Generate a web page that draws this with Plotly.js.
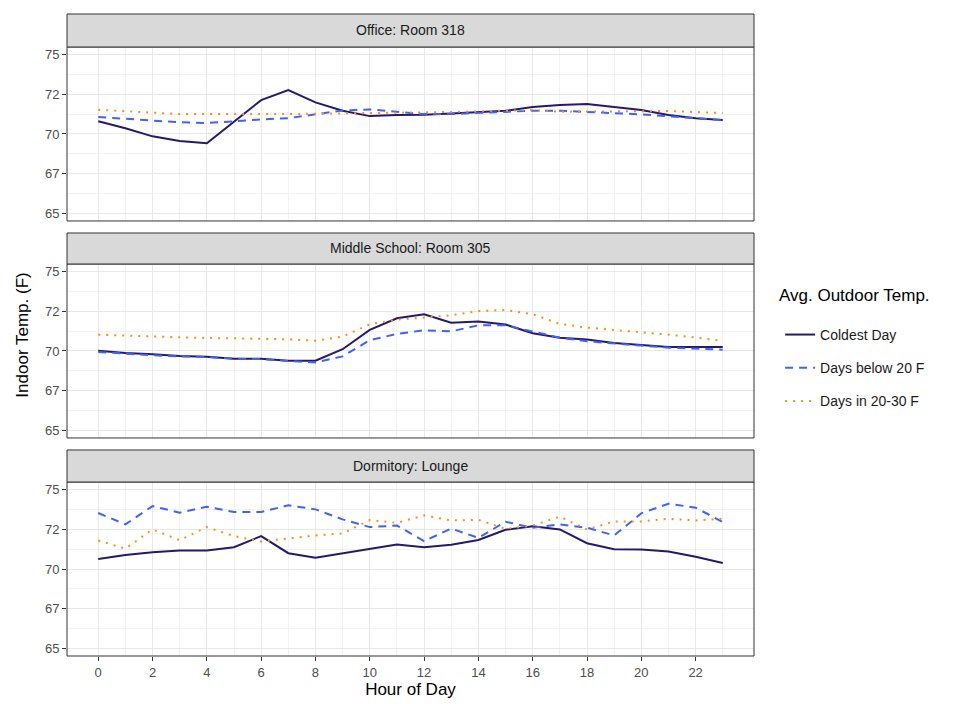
<!DOCTYPE html>
<html>
<head>
<meta charset="utf-8">
<script src="https://cdn.plot.ly/plotly-3.0.1.min.js"></script>
<style>html,body{margin:0;padding:0;background:#fff;}#chart{width:980px;height:704px;}</style>
</head>
<body>
<div id="chart"></div>
<script>
const hours = [0,1,2,3,4,5,6,7,8,9,10,11,12,13,14,15,16,17,18,19,20,21,22,23];
const panels = ['Office: Room 318', 'Middle School: Room 305', 'Dormitory: Lounge'];
const seriesNames = ['Coldest Day', 'Days below 20 F', 'Days in 20-30 F'];
const legendTitle = 'Avg. Outdoor Temp.';
const xTickVals = [0, 2, 4, 6, 8, 10, 12, 14, 16, 18, 20, 22];
const yTickVals = [65, 67.5, 70, 72.5, 75];
const yTickText = ['65', '67', '70', '72', '75'];

// Office: Room 318
const officeColdest = [70.80,70.36,69.85,69.56,69.41,70.78,72.14,72.77,72.00,71.47,71.13,71.20,71.22,71.30,71.39,71.47,71.70,71.83,71.89,71.68,71.51,71.20,70.99,70.88];
const officeBelow20 = [71.07,70.95,70.84,70.74,70.69,70.82,70.92,71.00,71.26,71.49,71.55,71.41,71.26,71.26,71.32,71.41,71.47,71.47,71.41,71.32,71.24,71.11,70.99,70.88];
const office20to30  = [71.53,71.45,71.37,71.26,71.26,71.28,71.26,71.26,71.28,71.28,71.32,71.34,71.37,71.39,71.43,71.47,71.51,71.41,71.43,71.43,71.47,71.45,71.39,71.32];

// Middle School: Room 305
const schoolColdest = [70.02,69.87,69.79,69.68,69.64,69.51,69.51,69.39,69.39,70.11,71.33,72.07,72.32,71.79,71.86,71.67,71.12,70.84,70.72,70.51,70.38,70.25,70.25,70.25];
const schoolBelow20 = [69.94,69.83,69.73,69.66,69.62,69.51,69.49,69.37,69.28,69.66,70.68,71.08,71.31,71.24,71.62,71.62,71.22,70.84,70.61,70.46,70.34,70.21,70.15,70.08];
const school20to30  = [71.03,70.97,70.91,70.84,70.82,70.80,70.78,70.74,70.65,70.91,71.69,71.98,72.11,72.26,72.53,72.59,72.32,71.71,71.48,71.31,71.18,71.03,70.86,70.63];

// Dormitory: Lounge
const dormColdest = [70.64,70.89,71.06,71.17,71.17,71.38,72.08,71.00,70.72,71.00,71.29,71.55,71.38,71.53,71.84,72.48,72.71,72.50,71.63,71.25,71.23,71.10,70.78,70.38];
const dormBelow20 = [73.54,72.82,73.98,73.56,73.94,73.60,73.60,74.03,73.77,73.14,72.65,72.75,71.76,72.56,71.97,72.99,72.61,72.82,72.61,72.12,73.52,74.13,73.88,72.97];
const dorm20to30  = [71.80,71.29,72.50,71.82,72.65,72.08,71.74,71.93,72.12,72.25,73.09,72.92,73.39,73.07,73.11,72.54,72.75,73.31,72.50,73.01,73.01,73.18,73.07,73.18];

const panelData = [
  [officeColdest, officeBelow20, office20to30],
  [schoolColdest, schoolBelow20, school20to30],
  [dormColdest, dormBelow20, dorm20to30]
];

const lineStyles = [
  {color: '#25196a', width: 2, dash: 'solid'},
  {color: '#3f63f5', width: 2, dash: '8px,6px'},
  {color: '#ff8c1a', width: 2, dash: '2px,6px'}
];

const axisSuffix = ['', '2', '3'];
const traces = [];
panelData.forEach((series, p) => {
  series.forEach((vals, s) => {
    traces.push({
      x: hours, y: vals, type: 'scatter', mode: 'lines',
      name: seriesNames[s], legendgroup: 'g' + s, showlegend: p === 0,
      xaxis: 'x' + axisSuffix[p], yaxis: 'y' + axisSuffix[p],
      line: lineStyles[s], hoverinfo: 'skip'
    });
  });
});

// layout geometry (paper fractions)
const plotDomains = [[0.6776, 0.9486], [0.3396, 0.6106], [0.0, 0.2710]];
const stripDomains = [[0.9486, 1.0], [0.6106, 0.6589], [0.2710, 0.3209]];

const font = 'Liberation Sans, Arial, sans-serif';
const gridCol = '#e8e8e8';
const minorCol = '#f2f2f2';

function xAxis(p) {
  const bottom = p === 2;
  return {
    domain: [0, 1], anchor: 'y' + axisSuffix[p], range: [-1.15, 24.15],
    tickmode: 'array', tickvals: xTickVals,
    showticklabels: bottom, ticks: bottom ? 'outside' : '', ticklen: 4, tickwidth: 1, tickcolor: '#333333',
    tickfont: {family: font, size: 13, color: '#4d4d4d'},
    showgrid: true, gridcolor: gridCol, gridwidth: 1, zeroline: false, showline: false,
    minor: {tickmode: 'array', tickvals: [1,3,5,7,9,11,13,15,17,19,21,23], showgrid: true, gridcolor: minorCol, gridwidth: 1, ticks: ''},
    title: bottom ? {text: 'Hour of Day', font: {family: font, size: 17, color: '#000'}, standoff: 4} : {text: ''}
  };
}
function yAxis(p) {
  return {
    domain: plotDomains[p], anchor: 'x' + axisSuffix[p], range: [64.5, 75.5],
    tickmode: 'array', tickvals: yTickVals, ticktext: yTickText,
    ticks: 'outside', ticklen: 4, tickwidth: 1, tickcolor: '#333333',
    tickfont: {family: font, size: 13, color: '#4d4d4d'},
    showgrid: true, gridcolor: gridCol, gridwidth: 1, zeroline: false, showline: false,
    minor: {tickmode: 'array', tickvals: [66.25, 68.75, 71.25, 73.75], showgrid: true, gridcolor: minorCol, gridwidth: 1, ticks: ''}
  };
}

const shapes = [];
const annotations = [];
for (let p = 0; p < 3; p++) {
  shapes.push({type: 'rect', xref: 'paper', yref: 'paper', x0: 0, x1: 1, y0: plotDomains[p][0], y1: plotDomains[p][1],
    line: {color: '#333333', width: 1}, fillcolor: 'rgba(0,0,0,0)', layer: 'above'});
  shapes.push({type: 'rect', xref: 'paper', yref: 'paper', x0: 0, x1: 1, y0: stripDomains[p][0], y1: stripDomains[p][1],
    line: {color: '#333333', width: 1}, fillcolor: '#d9d9d9', layer: 'above'});
  annotations.push({text: panels[p], xref: 'paper', yref: 'paper', x: 0.5, y: (stripDomains[p][0] + stripDomains[p][1]) / 2,
    xanchor: 'center', yanchor: 'middle', showarrow: false, font: {family: font, size: 14, color: '#1a1a1a'}});
}
annotations.push({text: 'Indoor Temp. (F)', xref: 'paper', yref: 'paper', x: -0.066, y: 0.5, textangle: -90,
  xanchor: 'center', yanchor: 'middle', showarrow: false, font: {family: font, size: 17, color: '#000'}});
annotations.push({text: legendTitle, xref: 'paper', yref: 'paper', x: 1.0335, y: 0.562,
  xanchor: 'left', yanchor: 'middle', showarrow: false, font: {family: font, size: 17, color: '#000'}});

const layout = {
  width: 980, height: 704,
  margin: {l: 67, r: 226, t: 14, b: 48},
  paper_bgcolor: '#ffffff', plot_bgcolor: '#ffffff',
  font: {family: font},
  showlegend: true,
  legend: {
    x: 1.038, xanchor: 'left', y: 0.525, yanchor: 'top',
    font: {family: font, size: 14, color: '#1a1a1a'},
    tracegroupgap: 12, bgcolor: 'rgba(0,0,0,0)'
  },
  xaxis: xAxis(0), xaxis2: xAxis(1), xaxis3: xAxis(2),
  yaxis: yAxis(0), yaxis2: yAxis(1), yaxis3: yAxis(2),
  shapes: shapes, annotations: annotations
};

Plotly.newPlot('chart', traces, layout, {displayModeBar: false, staticPlot: true});
</script>
</body>
</html>
